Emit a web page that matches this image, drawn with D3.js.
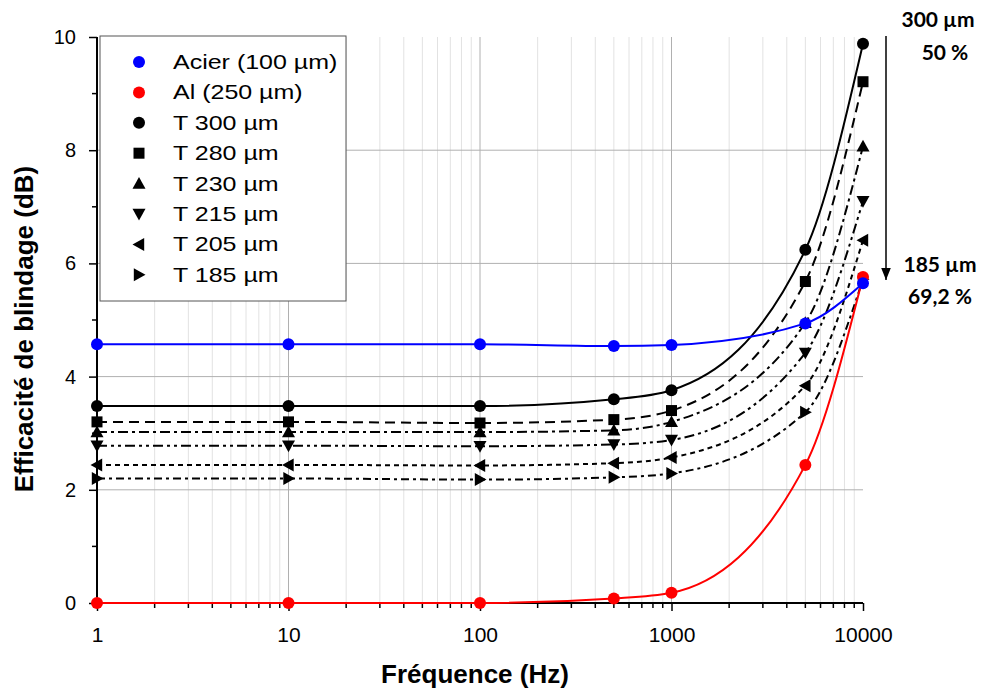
<!DOCTYPE html>
<html><head><meta charset="utf-8">
<script src="https://cdn.jsdelivr.net/npm/d3@7"></script>
<style>body{margin:0;background:#fff}svg{display:block}</style>
</head><body>
<svg id="c" width="992" height="695"></svg>
<script>
const freqs = [1, 10, 100, 500, 1000, 5000, 10000];
const acier = [4.57, 4.57, 4.57, 4.54, 4.56, 4.94, 5.65];
const alu   = [0.0, 0.0, 0.0, 0.08, 0.18, 2.44, 5.76];
const t300  = [3.48, 3.48, 3.48, 3.60, 3.76, 6.24, 9.88];
const t280  = [3.20, 3.20, 3.18, 3.24, 3.40, 5.68, 9.21];
const t230  = [3.02, 3.02, 3.02, 3.05, 3.20, 4.95, 8.07];
const t215  = [2.78, 2.78, 2.77, 2.80, 2.88, 4.42, 7.10];
const t205  = [2.44, 2.44, 2.43, 2.47, 2.57, 3.84, 6.41];
const t185  = [2.20, 2.20, 2.18, 2.22, 2.29, 3.37, 5.72];
const seriesNames = ["Acier (100 µm)", "Al (250 µm)", "T 300 µm", "T 280 µm", "T 230 µm", "T 215 µm", "T 205 µm", "T 185 µm"];
const xTicks = [1, 10, 100, 1000, 10000];
const yTicks = [0, 2, 4, 6, 8, 10];

const series = [
  {name: seriesNames[0], v: acier, color: "#0000ff", sym: "circle", dash: null},
  {name: seriesNames[1], v: alu, color: "#ff0000", sym: "circle", dash: null},
  {name: seriesNames[2], v: t300, color: "#000", sym: "circle", dash: null},
  {name: seriesNames[3], v: t280, color: "#000", sym: "square", dash: "10,6"},
  {name: seriesNames[4], v: t230, color: "#000", sym: "up", dash: "10,4,3,4"},
  {name: seriesNames[5], v: t215, color: "#000", sym: "down", dash: "10,4,3,4,3,4"},
  {name: seriesNames[6], v: t205, color: "#000", sym: "left", dash: "5,4"},
  {name: seriesNames[7], v: t185, color: "#000", sym: "right", dash: "8,4,3,4"}
];

const svg = d3.select("#c");
const L = 97, R = 863, T = 37, B = 603;
const x = d3.scaleLog().domain([1, 10000]).range([L, R]);
const y = d3.scaleLinear().domain([0, 10]).range([B, T]);

// grid
const minor = [];
for (let d = 1; d < 10000; d *= 10) for (let k = 2; k <= 9; k++) minor.push(d * k);
svg.append("g").selectAll("line").data(minor).join("line")
  .attr("x1", d => x(d)).attr("x2", d => x(d)).attr("y1", T).attr("y2", B)
  .attr("stroke", "#e2e2e2").attr("stroke-width", 1);
svg.append("g").selectAll("line").data([10, 100, 1000]).join("line")
  .attr("x1", d => x(d)).attr("x2", d => x(d)).attr("y1", T).attr("y2", B)
  .attr("stroke", "#b0b0b0").attr("stroke-width", 1);
svg.append("g").selectAll("line").data([2, 4, 6, 8]).join("line")
  .attr("x1", L).attr("x2", R).attr("y1", d => y(d)).attr("y2", d => y(d))
  .attr("stroke", "#b0b0b0").attr("stroke-width", 1);

// axes
const fontTick = "Liberation Sans, Arial, sans-serif";
const xAxis = d3.axisBottom(x).tickValues(xTicks).tickFormat(d3.format("d")).tickSize(8).tickPadding(16);
const gx = svg.append("g").attr("transform", `translate(0,${B})`).call(xAxis);
gx.append("g").selectAll("line").data(minor).join("line")
  .attr("x1", d => x(d)).attr("x2", d => x(d)).attr("y1", 0).attr("y2", 5).attr("stroke", "#000").attr("stroke-width", 1.5);
const yAxis = d3.axisLeft(y).tickValues(yTicks).tickSize(8).tickPadding(13);
const gy = svg.append("g").attr("transform", `translate(${L},0)`).call(yAxis);
gy.append("g").selectAll("line").data([1, 3, 5, 7, 9]).join("line")
  .attr("x1", 0).attr("x2", -5).attr("y1", d => y(d)).attr("y2", d => y(d)).attr("stroke", "#000").attr("stroke-width", 1.5);
[gx, gy].forEach(g => {
  g.select(".domain").attr("stroke", "#000").attr("stroke-width", 2);
  g.selectAll(".tick line").attr("stroke", "#000").attr("stroke-width", 1.5);
  g.selectAll("text").attr("font-family", fontTick).attr("fill", "#000");
});
gx.selectAll("text").attr("font-size", 21);
gy.selectAll("text").attr("font-size", 20);
gx.select(".domain").attr("d", `M${L},0H${R}`);
gy.select(".domain").attr("d", `M0,${B}V${T}`);

// symbols
function sym(g, type, cx, cy, color) {
  const s = 6.5;
  if (type === "circle") g.append("circle").attr("cx", cx).attr("cy", cy).attr("r", 6).attr("fill", color);
  else if (type === "square") g.append("rect").attr("x", cx - 5.5).attr("y", cy - 5.5).attr("width", 11).attr("height", 11).attr("fill", color);
  else {
    let p;
    if (type === "up") p = [[cx, cy - s], [cx + s, cy + s * 0.8], [cx - s, cy + s * 0.8]];
    if (type === "down") p = [[cx, cy + s], [cx + s, cy - s * 0.8], [cx - s, cy - s * 0.8]];
    if (type === "left") p = [[cx - s, cy], [cx + s * 0.8, cy - s], [cx + s * 0.8, cy + s]];
    if (type === "right") p = [[cx + s, cy], [cx - s * 0.8, cy - s], [cx - s * 0.8, cy + s]];
    g.append("polygon").attr("points", p.map(q => q.join(",")).join(" ")).attr("fill", color);
  }
}

const line = d3.line().x(d => x(d[0])).y(d => y(d[1])).curve(d3.curveMonotoneX);
const plot = svg.append("g");
series.slice().reverse().forEach(s => {
  const pts = freqs.map((f, i) => [f, s.v[i]]);
  plot.append("path").attr("d", line(pts)).attr("fill", "none").attr("stroke", s.color)
    .attr("stroke-width", 2).attr("stroke-dasharray", s.dash);
  const g = plot.append("g");
  pts.forEach(p => sym(g, s.sym, x(p[0]), y(p[1]), s.color));
});

// legend
const lg = svg.append("g");
lg.append("rect").attr("x", 100).attr("y", 36).attr("width", 246).attr("height", 265)
  .attr("fill", "#fff").attr("stroke", "#555").attr("stroke-width", 1);
series.forEach((s, i) => {
  const cy = 62 + i * 30.4;
  sym(lg, s.sym, 139, cy, s.color);
  const t = lg.append("text").attr("x", 173).attr("y", cy + 7).text(s.name)
    .attr("font-family", fontTick).attr("font-size", 21).attr("fill", "#000");
  const w = t.node().getComputedTextLength();
  t.attr("textLength", w * 1.19).attr("lengthAdjust", "spacingAndGlyphs");
});

// axis titles
svg.append("text").attr("x", 475).attr("y", 683).attr("text-anchor", "middle")
  .attr("font-family", fontTick).attr("font-weight", "bold").attr("font-size", 26).text("Fréquence (Hz)");
svg.append("text").attr("transform", "translate(33,329) rotate(-90)").attr("text-anchor", "middle")
  .attr("font-family", fontTick).attr("font-weight", "bold").attr("font-size", 26).text("Efficacité de blindage (dB)");

// annotation
svg.append("defs").append("marker").attr("id", "ah").attr("viewBox", "0 0 10 10").attr("refX", 10).attr("refY", 5)
  .attr("markerWidth", 8).attr("markerHeight", 8).attr("orient", "auto")
  .append("path").attr("d", "M0,1L10,5L0,9z").attr("fill", "#000");
svg.append("line").attr("x1", 886).attr("x2", 886).attr("y1", 36).attr("y2", 280)
  .attr("stroke", "#000").attr("stroke-width", 1.5).attr("marker-end", "url(#ah)");
const af = "Lato, Carlito, Open Sans, sans-serif";
[["300 µm", 938, 27], ["50 %", 945, 60], ["185 µm", 940, 272], ["69,2 %", 940, 304]].forEach(a => {
  svg.append("text").attr("x", a[1]).attr("y", a[2]).attr("text-anchor", "middle")
    .attr("font-family", af).attr("font-weight", "bold").attr("font-size", 21).attr("fill", "#000").text(a[0]);
});
</script>
</body></html>
